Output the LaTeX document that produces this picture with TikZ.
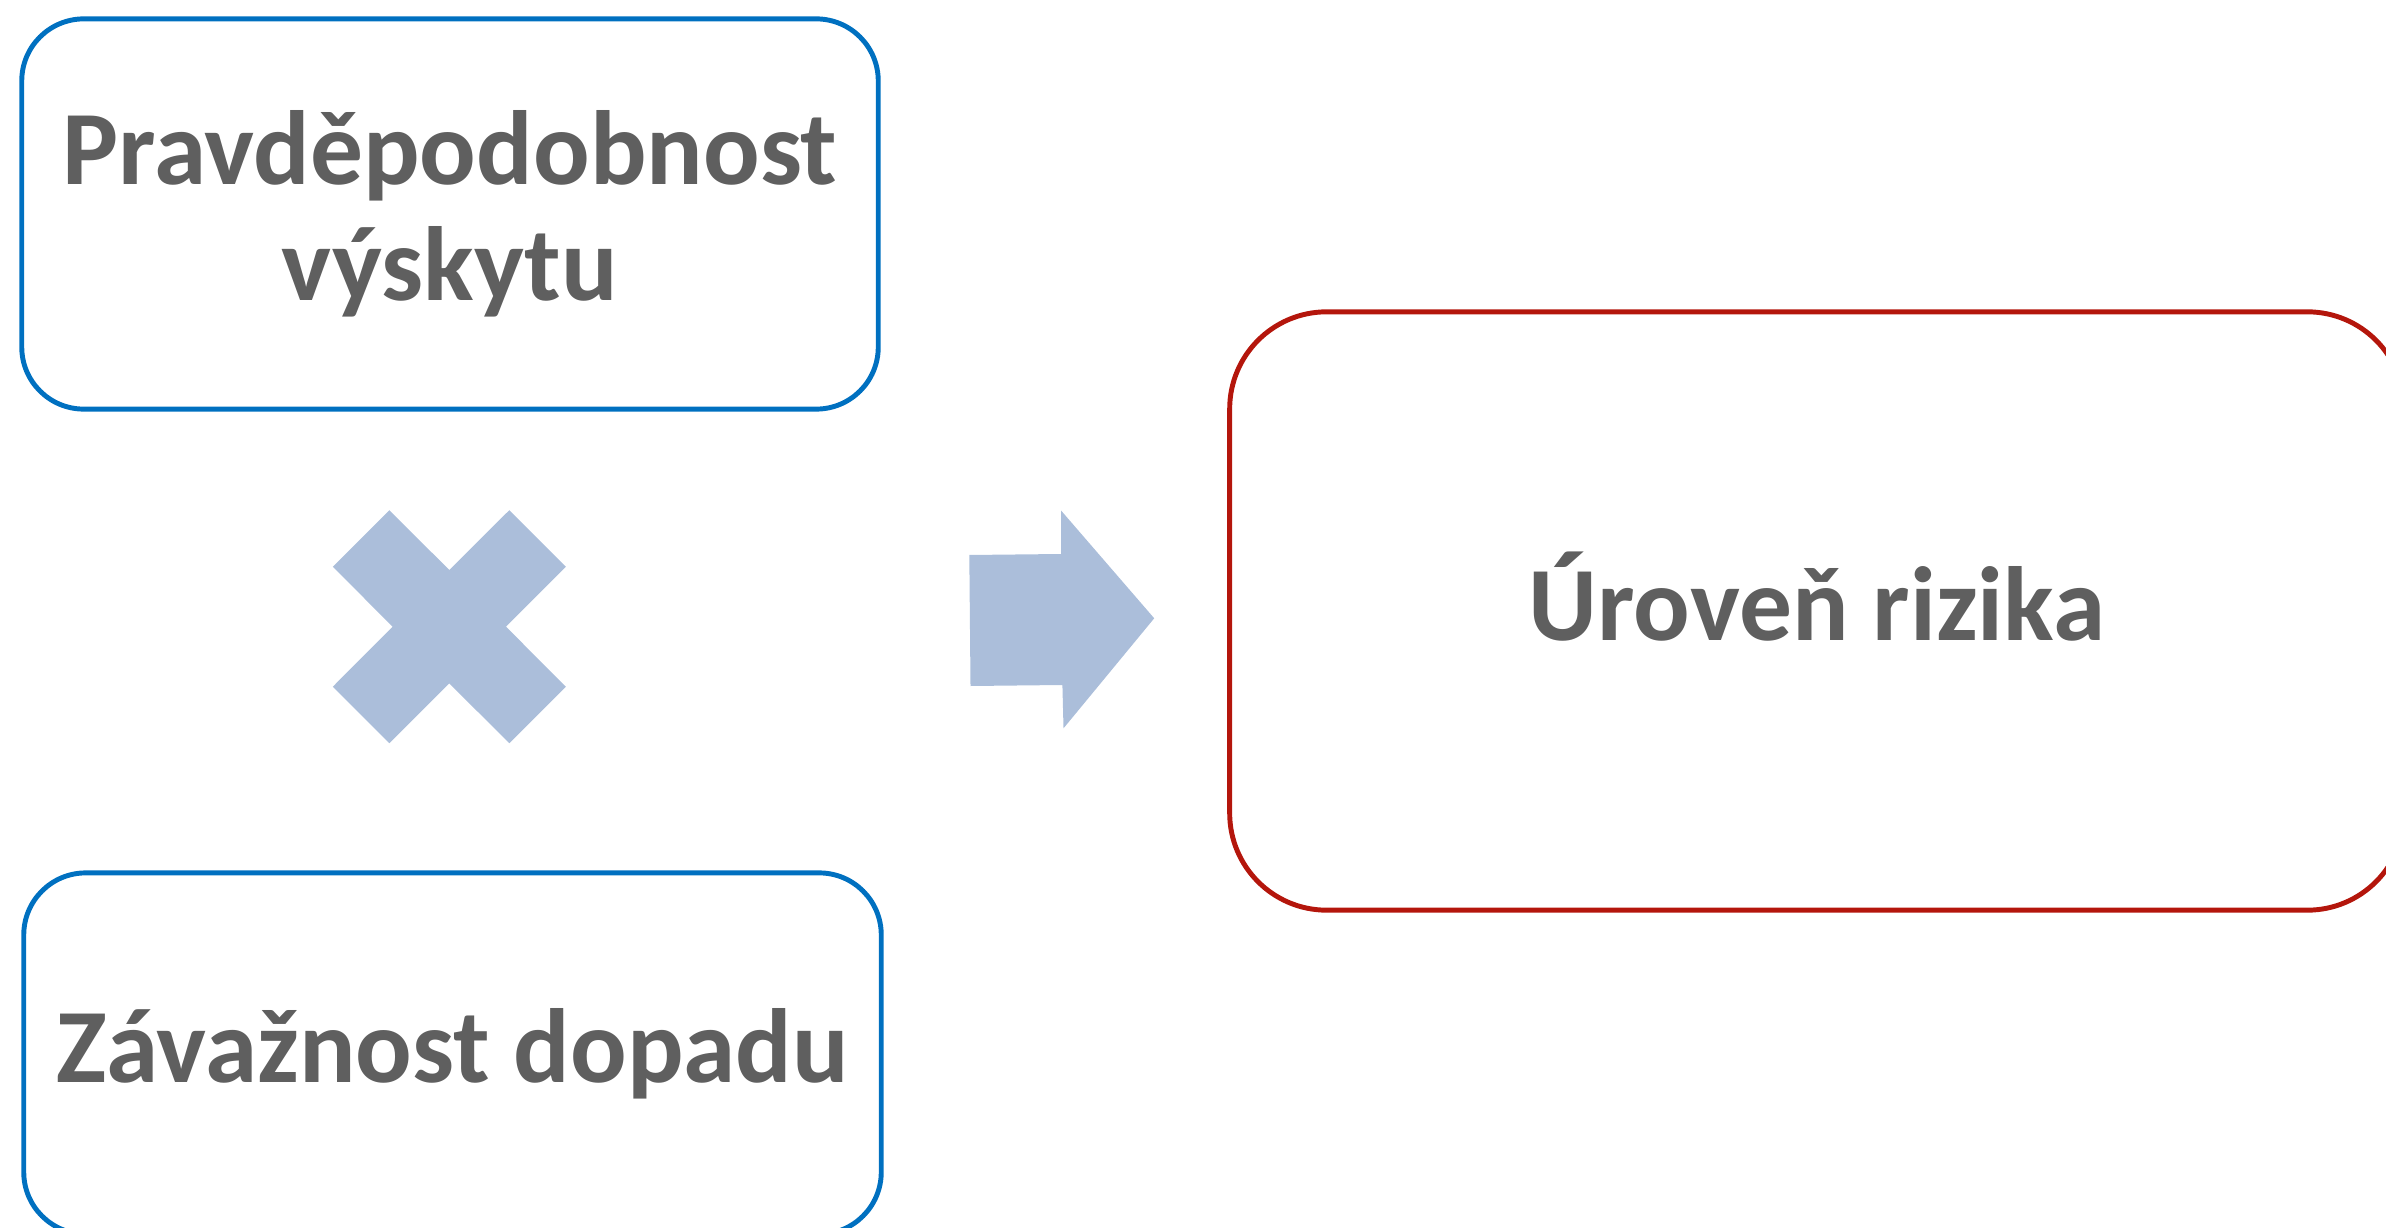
\documentclass[tikz,border=0pt]{standalone}
\usepackage{fontspec}
\setmainfont{Carlito}
\usepackage{xcolor}
\usetikzlibrary{positioning,calc}

\definecolor{factorblue}{RGB}{0,112,192}
\definecolor{riskred}{RGB}{180,22,12}
\definecolor{signblue}{RGB}{171,190,218}
\definecolor{labelgray}{RGB}{95,95,95}

\tikzset{
  factor/.style={draw=factorblue, line width=1.4pt, rounded corners=0.62cm,
    text=labelgray, font=\fontsize{30}{33}\selectfont\bfseries, align=center, inner sep=0pt},
  result/.style={draw=riskred, line width=1.4pt, rounded corners=0.97cm,
    text=labelgray, font=\fontsize{30}{33}\selectfont\bfseries, align=center, inner sep=0pt}
}

\begin{document}
\begin{tikzpicture}[x=0.01cm, y=-0.01cm]
    \useasboundingbox (0,0) rectangle (2386,1228);

    % Factors
    \node[factor, minimum width=8.56cm, minimum height=3.9cm] (prob) at (450,214) {Pravděpodobnost\\výskytu};
    \node[factor, minimum width=8.57cm, minimum height=3.61cm] (impact) at (452.5,1053.5) {Závažnost dopadu};

    % Result
    \node[result, minimum width=11.74cm, minimum height=5.98cm] (risk) at (1817,611) {};
    \node[text=labelgray, font=\fontsize{30}{33}\selectfont\bfseries, anchor=base] (risklabel) at (1817,640) {Úroveň rizika};

    % Times sign
    \coordinate (times) at (449.3,626.7);
    \fill[signblue] ($(times)+(-60,-116.5)$) -- ++(60,59.8) -- ++(60,-59.8) -- ++(56.5,56.5)
        -- ++(-59.8,60) -- ++(59.8,60) -- ++(-56.5,56.5) -- ++(-60,-59.8) -- ++(-60,59.8)
        -- ++(-56.5,-56.5) -- ++(59.8,-60) -- ++(-59.8,-60) -- cycle;

    % Block arrow
    \fill[signblue] (969.3,555) -- (1061.2,554) -- (1061.2,510.7) -- (1154.2,618.3)
        -- (1063.5,728.3) -- (1062.4,685) -- (970.5,686) -- cycle;
\end{tikzpicture}
\end{document}
